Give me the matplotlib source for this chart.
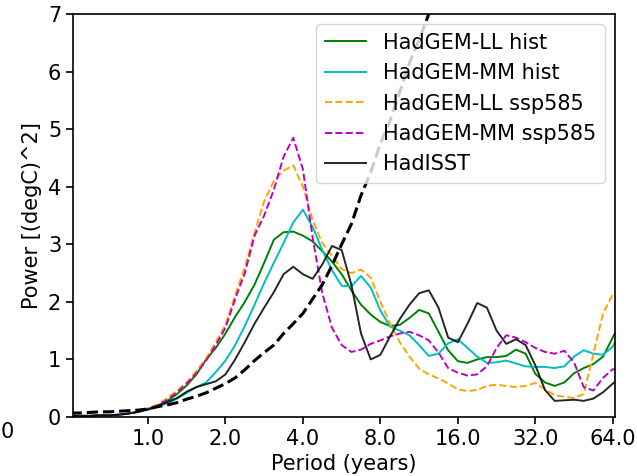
import numpy as np
import matplotlib
matplotlib.use('Agg')
import matplotlib.pyplot as plt

# period axis (years), sampled every 1/8 octave from 0.5 to 64, plus right edge
period = [0.5, 0.545, 0.595, 0.648, 0.707, 0.771, 0.841, 0.917,
          1.0, 1.091, 1.189, 1.297, 1.414, 1.542, 1.682, 1.834,
          2.0, 2.181, 2.378, 2.594, 2.828, 3.084, 3.364, 3.668,
          4.0, 4.362, 4.757, 5.187, 5.657, 6.169, 6.727, 7.336,
          8.0, 8.724, 9.514, 10.375, 11.314, 12.338, 13.454, 14.672,
          16.0, 17.448, 19.027, 20.749, 22.627, 24.675, 26.909, 29.344,
          32.0, 34.896, 38.055, 41.499, 45.255, 49.35, 53.817, 58.688,
          64.0, 65.3]

ll_hist = [0.02, 0.02, 0.02, 0.03, 0.03, 0.04, 0.06, 0.09,
           0.14, 0.2, 0.28, 0.4, 0.55, 0.74, 1.0, 1.2,
           1.45, 1.74, 2.0, 2.3, 2.68, 3.08, 3.21, 3.22,
           3.15, 3.05, 2.88, 2.7, 2.48, 2.2, 1.95, 1.78,
           1.65, 1.58, 1.6, 1.72, 1.86, 1.8, 1.48, 1.16,
           0.97, 0.94, 1.0, 1.04, 1.04, 1.06, 1.17, 1.1,
           0.75, 0.6, 0.54, 0.6, 0.76, 0.85, 0.92, 1.05,
           1.38, 1.46]

mm_hist = [0.02, 0.02, 0.02, 0.03, 0.03, 0.04, 0.06, 0.09,
           0.13, 0.18, 0.24, 0.32, 0.42, 0.52, 0.6, 0.78,
           0.98, 1.25, 1.58, 1.95, 2.33, 2.68, 3.02, 3.38,
           3.6, 3.3, 2.9, 2.55, 2.28, 2.27, 2.45, 2.25,
           1.85, 1.57, 1.5, 1.42, 1.25, 1.06, 1.1, 1.28,
           1.35, 1.2, 1.05, 0.94, 0.95, 0.98, 0.93, 0.88,
           0.87, 0.87, 0.85, 0.88, 1.05, 1.16, 1.1, 1.08,
           1.22, 1.3]

ll_ssp = [0.02, 0.02, 0.02, 0.03, 0.03, 0.04, 0.06, 0.09,
          0.15, 0.22, 0.33, 0.46, 0.6, 0.8, 1.02, 1.3,
          1.6, 2.12, 2.6, 3.2, 3.75, 4.1, 4.28, 4.37,
          4.0, 3.42, 3.02, 2.8, 2.57, 2.5, 2.56, 2.42,
          2.0, 1.62, 1.3, 1.05, 0.84, 0.74, 0.67, 0.58,
          0.48, 0.45, 0.47, 0.54, 0.56, 0.54, 0.52, 0.54,
          0.59, 0.48, 0.38, 0.35, 0.33, 0.4, 1.1, 1.8,
          2.13, 2.12]

mm_ssp = [0.02, 0.02, 0.02, 0.03, 0.03, 0.04, 0.06, 0.09,
          0.14, 0.2, 0.3, 0.43, 0.58, 0.76, 0.98, 1.25,
          1.55, 2.05, 2.5, 3.15, 3.5, 3.95, 4.52, 4.85,
          4.3, 3.12, 2.15, 1.55, 1.25, 1.13, 1.17, 1.27,
          1.33, 1.4, 1.45, 1.48, 1.42, 1.33, 1.12, 0.85,
          0.77, 0.72, 0.74, 0.88, 1.2, 1.42, 1.38, 1.3,
          1.2, 1.13, 1.1, 1.15, 0.95, 0.52, 0.46, 0.68,
          0.83, 0.83]

hadisst = [0.02, 0.02, 0.02, 0.03, 0.03, 0.04, 0.06, 0.09,
           0.13, 0.19, 0.26, 0.33, 0.44, 0.52, 0.57, 0.62,
           0.74, 1.0, 1.3, 1.62, 1.9, 2.17, 2.48, 2.61,
           2.48, 2.4, 2.65, 2.97, 2.9, 2.3, 1.45, 1.0,
           1.08, 1.4, 1.7, 1.95, 2.15, 2.2, 1.9, 1.38,
           1.3, 1.62, 1.98, 1.9, 1.5, 1.27, 1.35, 1.25,
           0.9, 0.47, 0.28, 0.29, 0.3, 0.28, 0.32, 0.43,
           0.58, 0.61]

# reference (red-noise like) curve, only up to where it leaves the axes
ref_period = period[:39]
ref_curve = [0.07, 0.07, 0.08, 0.09, 0.09, 0.1, 0.11, 0.12,
             0.14, 0.18, 0.21, 0.25, 0.31, 0.36, 0.42, 0.5,
             0.58, 0.68, 0.82, 0.98, 1.12, 1.25, 1.45, 1.62,
             1.8, 2.05, 2.3, 2.63, 3.0, 3.35, 3.85, 4.25,
             4.75, 5.15, 5.65, 6.15, 6.55, 7.0, 7.5]

xticks = [1, 2, 4, 8, 16, 32, 64]
yticks = [0, 1, 2, 3, 4, 5, 6, 7]

plt.rcParams['font.size'] = 15
fig = plt.figure(figsize=(6.37, 4.76), dpi=100)
ax = fig.add_axes([73/637, 59/476, 542/637, 403/476])

ax.plot(period, ll_hist, color='green', lw=1.4, label='HadGEM-LL hist')
ax.plot(period, mm_hist, color='c', lw=1.4, label='HadGEM-MM hist')
ax.plot(period, ll_ssp, color='orange', lw=1.4, ls='--', label='HadGEM-LL ssp585')
ax.plot(period, mm_ssp, color='m', lw=1.4, ls='--', label='HadGEM-MM ssp585')
ax.plot(period, hadisst, color='k', lw=1.4, alpha=0.85, label='HadISST')
ax.plot(ref_period, ref_curve, color='k', lw=2.2, ls='--')

ax.set_xscale('log', base=2)
ax.set_xlim(0.511, 65.3)
ax.set_ylim(0, 7)
ax.set_xticks(xticks)
ax.set_xticklabels(['{:.1f}'.format(t) for t in xticks])
ax.minorticks_off()
ax.set_yticks(yticks)
ax.tick_params(length=5, width=1.2)
for s in ax.spines.values():
    s.set_linewidth(1.2)

ax.set_xlabel('Period (years)')
ax.set_ylabel('Power [(degC)^2]')
ax.legend(loc='upper right', fontsize=15)

# label from a neighbouring panel, at the left edge
fig.text(1/637, 1 - 432/476, '0', ha='left', va='center', fontsize=15)

fig.savefig('out.png', dpi=100)
